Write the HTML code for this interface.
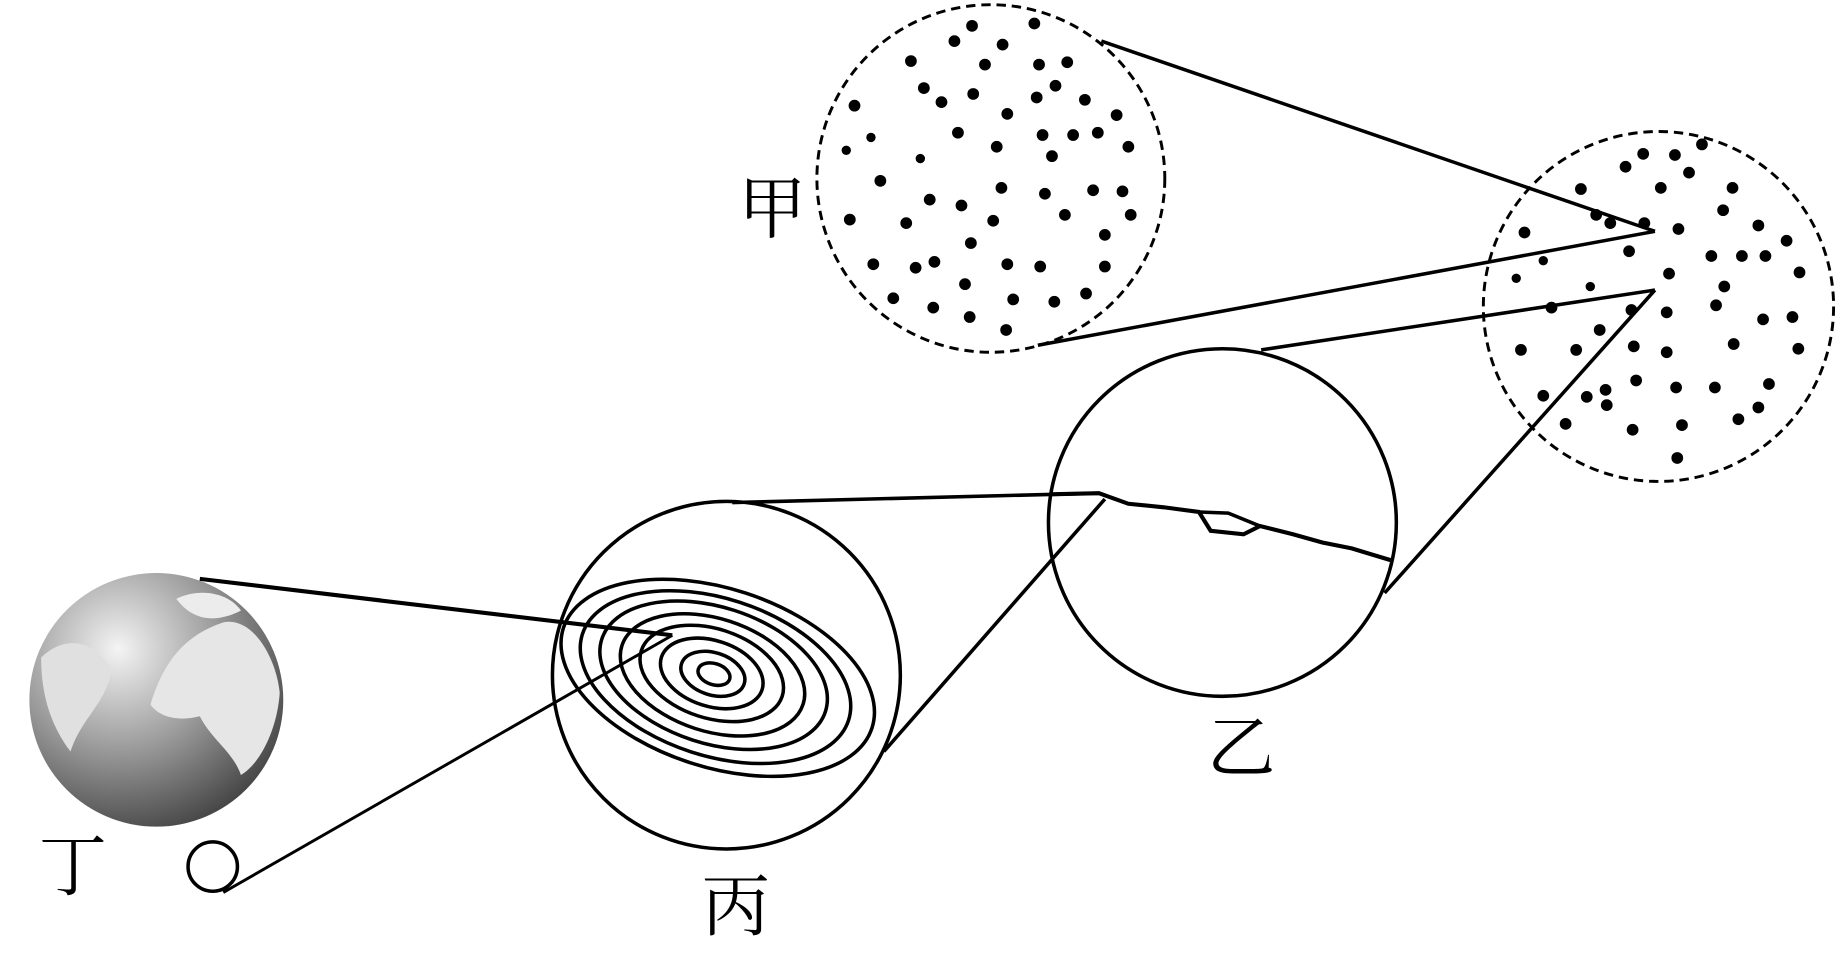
<!DOCTYPE html>
<html><head><meta charset="utf-8"><style>
html,body{margin:0;padding:0;background:#fff;overflow:hidden}
svg{display:block}
text{font-family:"Liberation Serif","Noto Serif CJK SC","Noto Sans CJK SC",serif;fill:#000}
</style></head><body>
<svg width="1843" height="957" viewBox="0 0 1568 815" preserveAspectRatio="none" xmlns="http://www.w3.org/2000/svg">
<defs>
<radialGradient id="eg" cx="0.35" cy="0.3" r="0.8">
<stop offset="0" stop-color="#f4f4f4"/><stop offset="0.5" stop-color="#9a9a9a"/><stop offset="1" stop-color="#3a3a3a"/>
</radialGradient>
</defs>
<g fill="none" stroke="#000" stroke-width="3">
<circle cx="133" cy="596" r="108" fill="url(#eg)" stroke="none"/>
<path d="M128,600 C140,560 160,540 190,530 C215,525 235,560 238,590 C236,620 222,650 205,660 C198,640 180,630 170,610 C150,615 135,610 128,600Z" fill="#e6e6e6" stroke="none"/>
<path d="M35,560 C55,540 80,545 95,570 C90,600 70,610 60,640 C45,620 35,595 35,560Z" fill="#e0e0e0" stroke="none"/>
<path d="M150,510 C170,500 195,505 205,520 C185,530 165,530 150,510Z" fill="#ececec" stroke="none"/>
<line x1="170" y1="493" x2="572" y2="541" stroke-width="3.5"/>
<line x1="190" y1="760" x2="572" y2="541" stroke-width="2.5"/>
<line x1="623" y1="428" x2="935" y2="420"/>
<line x1="752" y1="640" x2="940" y2="425"/>
<line x1="937" y1="35" x2="1408" y2="197"/>
<line x1="883" y1="294" x2="1408" y2="197"/>
<line x1="1073" y1="298" x2="1408" y2="247"/>
<line x1="1178" y1="505" x2="1408" y2="247"/>
<circle cx="618" cy="575" r="148"/>
<circle cx="1040" cy="445" r="148"/>
<circle cx="181" cy="738" r="21"/>
<circle cx="843" cy="152" r="148" stroke-dasharray="8,5" stroke-width="2.5"/>
<circle cx="1411" cy="261" r="149" stroke-dasharray="8,5" stroke-width="2.5"/>
<path d="M893,421 L935,420 L960,429 L990,432 L1020,436 L1030,452 L1058,455 L1072,448 L1100,455 L1125,462 L1150,467 L1183,477" stroke-width="3.5"/>
<path d="M1020,436 L1045,437 L1072,448" stroke-width="3"/>
<g transform="rotate(18 610 576)">
<ellipse cx="607" cy="575" rx="14" ry="9"/>
<ellipse cx="606" cy="575" rx="28" ry="18"/>
<ellipse cx="605" cy="575" rx="45" ry="28"/>
<ellipse cx="605" cy="575" rx="63" ry="38"/>
<ellipse cx="606" cy="576" rx="81" ry="48"/>
<ellipse cx="607" cy="576" rx="100" ry="58"/>
<ellipse cx="609" cy="577" rx="119" ry="67"/>
<ellipse cx="611" cy="577" rx="138" ry="76"/>
</g>
</g>
<g fill="#000">
<circle cx="827" cy="22" r="5"/><circle cx="880" cy="20" r="5"/><circle cx="812" cy="35" r="5"/><circle cx="853" cy="38" r="5"/><circle cx="775" cy="52" r="5"/><circle cx="838" cy="55" r="5"/><circle cx="884" cy="55" r="5"/><circle cx="908" cy="53" r="5"/><circle cx="786" cy="75" r="5"/><circle cx="828" cy="80" r="5"/><circle cx="898" cy="73" r="5"/><circle cx="801" cy="87" r="5"/><circle cx="882" cy="83" r="5"/><circle cx="923" cy="85" r="5"/><circle cx="727" cy="90" r="5"/><circle cx="857" cy="97" r="5"/><circle cx="950" cy="98" r="5"/><circle cx="720" cy="128" r="4"/><circle cx="741" cy="117" r="4"/><circle cx="815" cy="113" r="5"/><circle cx="887" cy="115" r="5"/><circle cx="913" cy="115" r="5"/><circle cx="934" cy="113" r="5"/><circle cx="783" cy="135" r="4"/><circle cx="848" cy="125" r="5"/><circle cx="895" cy="133" r="5"/><circle cx="960" cy="125" r="5"/><circle cx="749" cy="154" r="5"/><circle cx="852" cy="160" r="5"/><circle cx="791" cy="170" r="5"/><circle cx="818" cy="175" r="5"/><circle cx="889" cy="165" r="5"/><circle cx="930" cy="162" r="5"/><circle cx="955" cy="163" r="5"/><circle cx="723" cy="187" r="5"/><circle cx="771" cy="190" r="5"/><circle cx="845" cy="188" r="5"/><circle cx="906" cy="183" r="5"/><circle cx="962" cy="183" r="5"/><circle cx="940" cy="200" r="5"/><circle cx="826" cy="207" r="5"/><circle cx="743" cy="225" r="5"/><circle cx="779" cy="228" r="5"/><circle cx="795" cy="223" r="5"/><circle cx="857" cy="225" r="5"/><circle cx="885" cy="227" r="5"/><circle cx="940" cy="227" r="5"/><circle cx="821" cy="242" r="5"/><circle cx="760" cy="254" r="5"/><circle cx="794" cy="262" r="5"/><circle cx="862" cy="255" r="5"/><circle cx="897" cy="257" r="5"/><circle cx="924" cy="250" r="5"/><circle cx="825" cy="270" r="5"/><circle cx="856" cy="281" r="5"/>
<circle cx="1398" cy="131" r="5"/><circle cx="1383" cy="142" r="5"/><circle cx="1425" cy="132" r="5"/><circle cx="1448" cy="123" r="5"/><circle cx="1413" cy="160" r="5"/><circle cx="1437" cy="147" r="5"/><circle cx="1345" cy="161" r="5"/><circle cx="1474" cy="160" r="5"/><circle cx="1466" cy="179" r="5"/><circle cx="1358" cy="183" r="5"/><circle cx="1370" cy="190" r="5"/><circle cx="1399" cy="190" r="5"/><circle cx="1428" cy="195" r="5"/><circle cx="1297" cy="198" r="5"/><circle cx="1496" cy="192" r="5"/><circle cx="1520" cy="205" r="5"/><circle cx="1313" cy="222" r="4"/><circle cx="1386" cy="214" r="5"/><circle cx="1456" cy="218" r="5"/><circle cx="1482" cy="218" r="5"/><circle cx="1502" cy="218" r="5"/><circle cx="1290" cy="237" r="4"/><circle cx="1353" cy="244" r="4"/><circle cx="1420" cy="233" r="5"/><circle cx="1467" cy="244" r="5"/><circle cx="1531" cy="232" r="5"/><circle cx="1320" cy="262" r="5"/><circle cx="1361" cy="281" r="5"/><circle cx="1388" cy="264" r="5"/><circle cx="1418" cy="266" r="5"/><circle cx="1460" cy="260" r="5"/><circle cx="1500" cy="272" r="5"/><circle cx="1525" cy="270" r="5"/><circle cx="1294" cy="298" r="5"/><circle cx="1341" cy="298" r="5"/><circle cx="1390" cy="295" r="5"/><circle cx="1418" cy="300" r="5"/><circle cx="1475" cy="293" r="5"/><circle cx="1530" cy="297" r="5"/><circle cx="1366" cy="332" r="5"/><circle cx="1350" cy="338" r="5"/><circle cx="1392" cy="324" r="5"/><circle cx="1426" cy="330" r="5"/><circle cx="1459" cy="330" r="5"/><circle cx="1505" cy="327" r="5"/><circle cx="1313" cy="337" r="5"/><circle cx="1332" cy="361" r="5"/><circle cx="1367" cy="345" r="5"/><circle cx="1389" cy="366" r="5"/><circle cx="1431" cy="362" r="5"/><circle cx="1479" cy="357" r="5"/><circle cx="1496" cy="347" r="5"/><circle cx="1427" cy="390" r="5"/>
</g>
<text x="628" y="198" font-size="58">甲</text>
<text x="1027" y="657" font-size="58">乙</text>
<text x="597" y="792" font-size="58">丙</text>
<text x="33" y="758" font-size="58">丁</text>
</svg>
</body></html>
